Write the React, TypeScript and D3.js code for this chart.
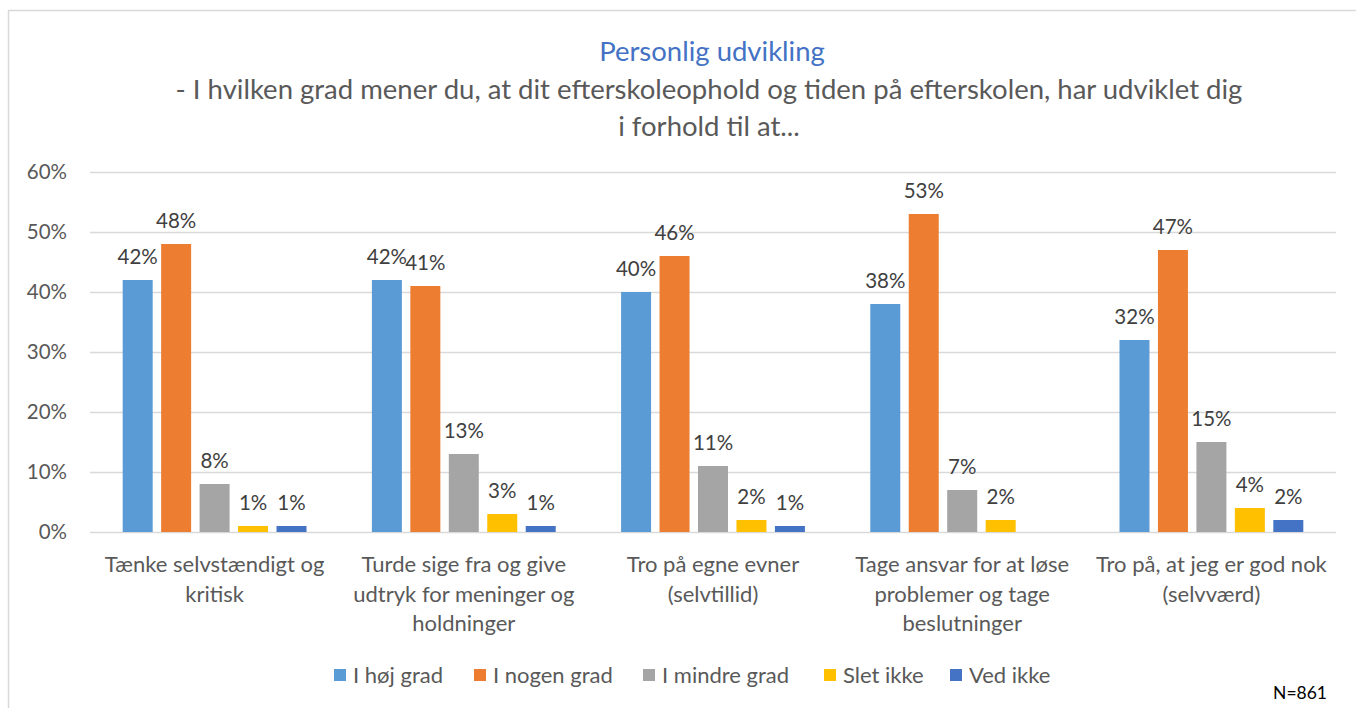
import React, { useRef, useEffect } from 'react';
import * as d3 from 'd3';

const categories = [
  ['Tænke selvstændigt og', 'kritisk'],
  ['Turde sige fra og give', 'udtryk for meninger og', 'holdninger'],
  ['Tro på egne evner', '(selvtillid)'],
  ['Tage ansvar for at løse', 'problemer og tage', 'beslutninger'],
  ['Tro på, at jeg er god nok', '(selvværd)']
];
const seriesNames = ['I høj grad', 'I nogen grad', 'I mindre grad', 'Slet ikke', 'Ved ikke'];
const hoejGrad = [42, 42, 40, 38, 32];
const nogenGrad = [48, 41, 46, 53, 47];
const mindreGrad = [8, 13, 11, 7, 15];
const sletIkke = [1, 3, 2, 2, 4];
const vedIkke = [1, 1, 1, null, 2];
const yTicks = [0, 10, 20, 30, 40, 50, 60];
const colors = ['#5B9BD5', '#ED7D31', '#A5A5A5', '#FFC000', '#4472C4'];

const W = 1356;
const H = 708;
const FONT = 'Lato, Carlito, Calibri, sans-serif';

const App = () => {
  const ref = useRef(null);

  useEffect(() => {
    if (!ref.current) return;
    const svg = d3.select(ref.current);
    svg.selectAll('*').remove();

    const margin = { top: 172, left: 90, right: 20, bottom: 176 };
    const plotW = W - margin.left - margin.right;
    const plotH = H - margin.top - margin.bottom;

    const allSeries = [hoejGrad, nogenGrad, mindreGrad, sletIkke, vedIkke];

    // chart border
    svg
      .append('rect')
      .attr('x', 8.5)
      .attr('y', 10.5)
      .attr('width', 1400)
      .attr('height', 800)
      .attr('fill', '#fff')
      .attr('stroke', '#D9D9D9')
      .attr('stroke-width', 1.5);

    // titles
    svg
      .append('text')
      .attr('x', 712)
      .attr('y', 61)
      .attr('text-anchor', 'middle')
      .attr('font-family', FONT)
      .attr('font-size', 27.5)
      .attr('fill', '#4472C4')
      .text('Personlig udvikling');

    const subLines = [
      '- I hvilken grad mener du, at dit efterskoleophold og tiden på efterskolen, har udviklet dig',
      'i forhold til at...'
    ];
    svg
      .append('g')
      .selectAll('text')
      .data(subLines)
      .enter()
      .append('text')
      .attr('x', 709)
      .attr('y', (d, i) => 99 + i * 36.5)
      .attr('text-anchor', 'middle')
      .attr('font-family', FONT)
      .attr('font-size', 27.5)
      .attr('fill', '#595959')
      .text((d) => d);

    const graph = svg
      .append('g')
      .attr('transform', `translate(${margin.left}, ${margin.top})`);

    const y = d3.scaleLinear().domain([0, 60]).range([plotH, 0]);
    const x0 = d3
      .scaleBand()
      .domain(categories.map((c, i) => i))
      .range([0, plotW])
      .padding(0);
    const x1 = d3
      .scaleBand()
      .domain(seriesNames.map((s, i) => i))
      .range([0, x0.bandwidth()])
      .paddingInner(0.22)
      .paddingOuter(0.85);

    // gridlines
    graph
      .append('g')
      .selectAll('line')
      .data(yTicks)
      .enter()
      .append('line')
      .attr('x1', 0)
      .attr('x2', plotW)
      .attr('y1', (d) => Math.round(y(d)) + 0.5)
      .attr('y2', (d) => Math.round(y(d)) + 0.5)
      .attr('stroke', '#D9D9D9')
      .attr('stroke-width', 1.5);

    // y axis labels
    graph
      .append('g')
      .selectAll('text')
      .data(yTicks)
      .enter()
      .append('text')
      .attr('x', -23)
      .attr('y', (d) => y(d) + 7)
      .attr('text-anchor', 'end')
      .attr('font-family', FONT)
      .attr('font-size', 20.5)
      .attr('fill', '#595959')
      .text((d) => d + '%');

    // bars + labels
    const groups = graph
      .selectAll('g.group')
      .data(categories)
      .enter()
      .append('g')
      .attr('class', 'group')
      .attr('transform', (d, i) => `translate(${x0(i)}, 0)`);

    const cells = groups
      .selectAll('g.cell')
      .data((d, gi) =>
        allSeries
          .map((s, si) => ({ si, v: s[gi] }))
          .filter((c) => c.v !== null)
      )
      .enter()
      .append('g')
      .attr('class', 'cell');

    cells
      .append('rect')
      .attr('x', (d) => x1(d.si))
      .attr('width', x1.bandwidth())
      .attr('y', (d) => y(d.v))
      .attr('height', (d) => plotH - y(d.v))
      .attr('fill', (d) => colors[d.si]);

    cells
      .append('text')
      .attr('x', (d) => x1(d.si) + x1.bandwidth() / 2)
      .attr('y', (d) => y(d.v) - 16)
      .attr('text-anchor', 'middle')
      .attr('font-family', FONT)
      .attr('font-size', 20.5)
      .attr('fill', '#404040')
      .text((d) => d.v + '%');

    // category labels
    groups
      .append('text')
      .attr('text-anchor', 'middle')
      .attr('font-family', FONT)
      .attr('font-size', 22)
      .attr('fill', '#595959')
      .selectAll('tspan')
      .data((d) => d)
      .enter()
      .append('tspan')
      .attr('x', x0.bandwidth() / 2)
      .attr('y', (d, i) => plotH + 40 + i * 29.5)
      .text((d) => d);

    // legend
    const legendX = [334, 474, 643, 824, 950];
    const legend = svg
      .append('g')
      .selectAll('g')
      .data(seriesNames)
      .enter()
      .append('g')
      .attr('transform', (d, i) => `translate(${legendX[i]}, 675)`);
    legend
      .append('rect')
      .attr('x', 0)
      .attr('y', -6)
      .attr('width', 12)
      .attr('height', 12)
      .attr('fill', (d, i) => colors[i]);
    legend
      .append('text')
      .attr('x', 19)
      .attr('y', 8)
      .attr('font-family', FONT)
      .attr('font-size', 22)
      .attr('fill', '#595959')
      .text((d) => d);

    svg
      .append('text')
      .attr('x', 1327)
      .attr('y', 699)
      .attr('text-anchor', 'end')
      .attr('font-family', FONT)
      .attr('font-size', 17.5)
      .attr('fill', '#000')
      .text('N=861');
  }, []);

  return (
    <svg
      ref={ref}
      width={W}
      height={H}
      style={{ position: 'absolute', left: 0, top: 0, background: '#fff' }}
    />
  );
};

export default App;
